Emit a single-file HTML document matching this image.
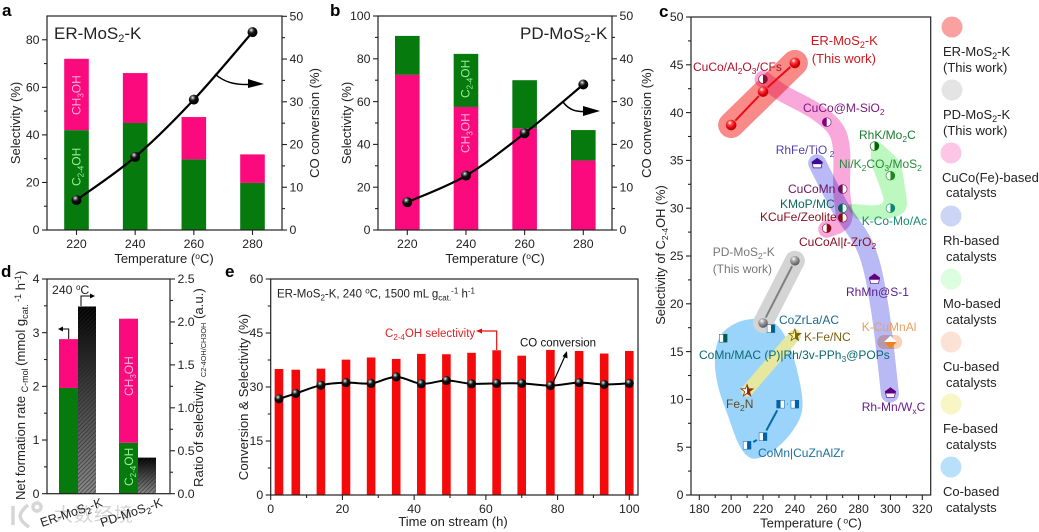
<!DOCTYPE html>
<html lang="en">
<head>
<meta charset="utf-8">
<title>MoS2-K catalyst performance</title>
<style>
html,body{margin:0;padding:0;background:#fff;}
svg{display:block;font-family:"Liberation Sans","Noto Sans CJK SC",sans-serif;fill:#222;}
text{font-size:13px;}
</style>
</head>
<body>
<svg id="fig" width="1039" height="532" viewBox="0 0 1039 532" xmlns="http://www.w3.org/2000/svg">
<defs>
<radialGradient id="ball" cx="38%" cy="30%" r="70%"><stop offset="0" stop-color="#fff"/><stop offset=".2" stop-color="#777"/><stop offset=".45" stop-color="#111"/><stop offset="1" stop-color="#000"/></radialGradient>
<radialGradient id="ballRed" cx="38%" cy="30%" r="70%"><stop offset="0" stop-color="#fff"/><stop offset=".3" stop-color="#f44"/><stop offset=".7" stop-color="#e00010"/><stop offset="1" stop-color="#b00"/></radialGradient>
<radialGradient id="ballGray" cx="38%" cy="30%" r="70%"><stop offset="0" stop-color="#fff"/><stop offset=".35" stop-color="#aaa"/><stop offset="1" stop-color="#555"/></radialGradient>
<linearGradient id="fade" x1="0" y1="0" x2="0" y2="1"><stop offset="0" stop-color="#000"/><stop offset="1" stop-color="#8a8a8a"/></linearGradient>
<pattern id="hatch" width="3" height="3" patternUnits="userSpaceOnUse" patternTransform="rotate(-45)"><rect width="3" height="1" fill="#222" fill-opacity=".55"/></pattern>
<linearGradient id="starOlive" x1="0" y1="0" x2="1" y2="0"><stop offset=".5" stop-color="#fff3a0"/><stop offset=".5" stop-color="#7d6d10"/></linearGradient>
<linearGradient id="starBrown" x1="0" y1="0" x2="1" y2="0"><stop offset=".5" stop-color="#fff"/><stop offset=".5" stop-color="#8a3010"/></linearGradient>
</defs>

<g id="watermark">
<path d="M13 506 V525 M28 505 C18 513 17 519 29 527 M33 507 a4 4 0 1 0 8 0 a4 4 0 1 0 -8 0" fill="none" stroke="#d6d6d6" stroke-width="3.500"/>
<text x="54" y="521" style="font-size:19px;letter-spacing:1px" fill="#d4d4d4">大数经境</text>
</g>
<g id="marks"></g>

<!-- frames -->
<rect x="47" y="16" width="235" height="214" fill="none" stroke="#222" stroke-width="1.2"/>
<rect x="378" y="16" width="234" height="214" fill="none" stroke="#222" stroke-width="1.2"/>
<rect x="691" y="17" width="239.7" height="478" fill="none" stroke="#222" stroke-width="1.2"/>
<rect x="47" y="279" width="123" height="214.7" fill="none" stroke="#222" stroke-width="1.2"/>
<rect x="270.7" y="279" width="367.3" height="216" fill="none" stroke="#222" stroke-width="1.2"/>

<!-- panel letters -->
<g style="font-weight:bold">
<text x="2" y="16" style="font-size:17px;font-weight:bold" fill="#000">a</text>
<text x="330" y="16" style="font-size:17px;font-weight:bold" fill="#000">b</text>
<text x="659" y="17" style="font-size:17px;font-weight:bold" fill="#000">c</text>
<text x="1" y="277" style="font-size:17px;font-weight:bold" fill="#000">d</text>
<text x="225" y="277" style="font-size:17px;font-weight:bold" fill="#000">e</text>
</g>

<!-- panel a text -->
<text x="54" y="39" style="font-size:17px">ER-MoS<tspan dy="3" style="font-size:11px">2</tspan><tspan dy="-3">-K</tspan></text>
<text transform="translate(20,123) rotate(-90)" text-anchor="middle">Selectivity (%)</text>
<text transform="translate(319,123) rotate(-90)" text-anchor="middle">CO conversion (%)</text>
<text x="164" y="263" text-anchor="middle">Temperature (<tspan dy="-4" style="font-size:8.5px">o</tspan><tspan dy="4">C)</tspan></text>
<text transform="translate(80.5,115) rotate(-90)" style="font-size:12px" fill="#ffb2dc">CH<tspan dy="3" style="font-size:8px">3</tspan><tspan dy="-3">OH</tspan></text>
<text transform="translate(80.5,186) rotate(-90)" style="font-size:12px" fill="#9af09a">C<tspan dy="3" style="font-size:8px">2-4</tspan><tspan dy="-3">OH</tspan></text>
<path d="M215 74 C224 82 234 85 250 84.500" fill="none" stroke="#000" stroke-width="1.500"/>
<path d="M248 79 L264 84 L248 88 Z" fill="#000"/>

<!-- panel b text -->
<text x="520" y="39" style="font-size:17px">PD-MoS<tspan dy="3" style="font-size:11px">2</tspan><tspan dy="-3">-K</tspan></text>
<text transform="translate(351,123) rotate(-90)" text-anchor="middle">Selectivity (%)</text>
<text transform="translate(651,123) rotate(-90)" text-anchor="middle">CO conversion (%)</text>
<text x="495" y="263" text-anchor="middle">Temperature (<tspan dy="-4" style="font-size:8.5px">o</tspan><tspan dy="4">C)</tspan></text>
<text transform="translate(469.5,153) rotate(-90)" style="font-size:12px" fill="#ffb2dc">CH<tspan dy="3" style="font-size:8px">3</tspan><tspan dy="-3">OH</tspan></text>
<text transform="translate(469.5,98) rotate(-90)" style="font-size:12px" fill="#9af09a">C<tspan dy="3" style="font-size:8px">2-4</tspan><tspan dy="-3">OH</tspan></text>
<path d="M563 102 C569 110 576 112 586 111.500" fill="none" stroke="#000" stroke-width="1.500"/>
<path d="M583 106 L600 111 L583 116 Z" fill="#000"/>

<!-- panel d text -->
<text transform="translate(25,500) rotate(-90)" style="font-size:13px">Net formation rate <tspan dy="3" style="font-size:9px">C-mol </tspan><tspan dy="-3">(mmol g</tspan><tspan dy="3" style="font-size:9px">cat.</tspan><tspan dy="-7" style="font-size:9px"> -1</tspan><tspan dy="4"> h</tspan><tspan dy="-4" style="font-size:9px">-1</tspan><tspan dy="4">)</tspan></text>
<text transform="translate(203,487) rotate(-90)" style="font-size:13.2px">Ratio of selectivity <tspan dy="3" style="font-size:7.3px">C2-4OH/CH3OH</tspan><tspan dy="-3"> (a.u.)</tspan></text>
<text x="52" y="294" style="font-size:12.3px">240 <tspan dy="-4" style="font-size:8px">o</tspan><tspan dy="4">C</tspan></text>
<text transform="translate(133,396) rotate(-90)" style="font-size:12px" fill="#ffb2dc">CH<tspan dy="3" style="font-size:8px">3</tspan><tspan dy="-3">OH</tspan></text>
<text transform="translate(133,486) rotate(-90)" style="font-size:12px" fill="#9af09a">C<tspan dy="3" style="font-size:8px">2-4</tspan><tspan dy="-3">OH</tspan></text>
<path d="M68.700 339 V329 H60" fill="none" stroke="#000" stroke-width="1"/>
<path d="M58 329 L63 326.500 V331.500 Z" fill="#000"/>
<path d="M81 306 V296 H91" fill="none" stroke="#000" stroke-width="1"/>
<path d="M95 296 L90 293.500 V298.500 Z" fill="#000"/>
<text transform="translate(42,527) rotate(-19)" style="font-size:12.5px">ER-MoS<tspan dy="3" style="font-size:9px">2</tspan><tspan dy="-3">-K</tspan></text>
<text transform="translate(102,527) rotate(-19)" style="font-size:12.5px">PD-MoS<tspan dy="3" style="font-size:9px">2</tspan><tspan dy="-3">-K</tspan></text>

<!-- panel e text -->
<text x="277" y="297.500" style="font-size:11.5px">ER-MoS<tspan dy="3" style="font-size:8px">2</tspan><tspan dy="-3">-K, 240 </tspan><tspan dy="-4" style="font-size:8px">o</tspan><tspan dy="4">C, 1500 mL g</tspan><tspan dy="3" style="font-size:8px">cat.</tspan><tspan dy="-7" style="font-size:8px">-1</tspan><tspan dy="4"> h</tspan><tspan dy="-4" style="font-size:8px">-1</tspan></text>
<text transform="translate(248,397) rotate(-90)" text-anchor="middle" style="font-size:13.2px">Conversion &amp; Selectivity (%)</text>
<text x="453" y="526" text-anchor="middle">Time on stream (h)</text>
<text x="385" y="337" style="font-size:11.5px" fill="#d22">C<tspan dy="3" style="font-size:8px">2-4</tspan><tspan dy="-3">OH selectivity</tspan></text>
<path d="M496.700 350 V331 H480" fill="none" stroke="#e01010" stroke-width="1.200"/>
<path d="M476 331 L482 328.500 V333.500 Z" fill="#e01010"/>
<text x="520" y="346.700" style="font-size:11.5px" fill="#111">CO conversion</text>
<path d="M552 385 L565 356" fill="none" stroke="#000" stroke-width="1.200"/>
<path d="M567 351 L567.500 358.500 L562.500 356.300 Z" fill="#000"/>

<!-- panel c titles -->
<text transform="translate(665,255) rotate(-90)" text-anchor="middle" style="font-size:12.8px">Selectivity of C<tspan dy="3" style="font-size:8.5px">2-4</tspan><tspan dy="-3">OH (%)</tspan></text>
<text x="811" y="527.500" text-anchor="middle">Temperature (<tspan dy="-4" style="font-size:8.5px"> o</tspan><tspan dy="4">C)</tspan></text>

<!-- panel c labels -->
<g id="catalyst-labels">
<text x="810.700" y="45" style="font-size:13px" fill="#d0181f">ER-MoS<tspan dy="3" style="font-size:9px">2</tspan><tspan dy="-3">-K</tspan></text>
<text x="811.700" y="63" style="font-size:13px" fill="#d0181f">(This work)</text>
<text x="693" y="71" style="font-size:12px" fill="#b01028">CuCo/Al<tspan dy="3" style="font-size:8.5px">2</tspan><tspan dy="-3">O</tspan><tspan dy="3" style="font-size:8.5px">3</tspan><tspan dy="-3">/CFs</tspan></text>
<text x="803" y="112" style="font-size:12px" fill="#7a1a80">CuCo@M-SiO<tspan dy="3" style="font-size:8.5px">2</tspan></text>
<text x="859" y="139" style="font-size:12px" fill="#1a7a30">RhK/Mo<tspan dy="3" style="font-size:8.5px">2</tspan><tspan dy="-3">C</tspan></text>
<text x="775.700" y="154" style="font-size:12px" fill="#5040b0">RhFe/TiO<tspan dy="3" style="font-size:8.5px"> 2</tspan></text>
<text x="839" y="168" style="font-size:12px" fill="#2a8a3a">Ni/K<tspan dy="3" style="font-size:8.5px">2</tspan><tspan dy="-3">CO</tspan><tspan dy="3" style="font-size:8.5px">3</tspan><tspan dy="-3">/MoS</tspan><tspan dy="3" style="font-size:8.5px">2</tspan></text>
<text x="788" y="193" style="font-size:12px" fill="#70105f">CuCoMn</text>
<text x="780" y="208" style="font-size:12px" fill="#0a6a60">KMoP/MC</text>
<text x="760" y="221" style="font-size:12px" fill="#8a1020">KCuFe/Zeolite</text>
<text x="861.700" y="225" style="font-size:12px" fill="#1a8a70">K-Co-Mo/Ac</text>
<text x="799" y="246" style="font-size:12px" fill="#8a1020">CuCoAl|<tspan font-style="italic">t</tspan>-ZrO<tspan dy="3" style="font-size:8.5px">2</tspan></text>
<text x="712.700" y="256" style="font-size:12px" fill="#777">PD-MoS<tspan dy="3" style="font-size:8.5px">2</tspan><tspan dy="-3">-K</tspan></text>
<text x="712.700" y="273" style="font-size:12px" fill="#777">(This work)</text>
<text x="846" y="296" style="font-size:12px" fill="#5a1a8a">RhMn@S-1</text>
<text x="779" y="324" style="font-size:12px" fill="#1a6a8a">CoZrLa/AC</text>
<text x="861.700" y="331" style="font-size:12px" fill="#e8a060">K-CuMnAl</text>
<text x="804" y="341" style="font-size:12px" fill="#7a6010">K-Fe/NC</text>
<text x="699" y="359" style="font-size:12px" fill="#0a6a70">CoMn/MAC (P)|Rh/3v-PPh<tspan dy="3" style="font-size:8.5px">3</tspan><tspan dy="-3">@POPs</tspan></text>
<text x="726" y="408" style="font-size:12px" fill="#5a4a20">Fe<tspan dy="3" style="font-size:8.5px">2</tspan><tspan dy="-3">N</tspan></text>
<text x="861.700" y="411" style="font-size:12px" fill="#6a1a8a">Rh-Mn/W<tspan dy="3" style="font-size:8.5px">x</tspan><tspan dy="-3">C</tspan></text>
<text x="758" y="457" style="font-size:12px" fill="#1a70a0">CoMn|CuZnAlZr</text>
</g>

<!-- legend -->
<g id="legend">
<circle cx="952" cy="27" r="10.500" fill="#f9a0a0"/>
<text x="943" y="56">ER-MoS<tspan dy="3" style="font-size:9px">2</tspan><tspan dy="-3">-K</tspan></text>
<text x="943" y="72">(This work)</text>
<circle cx="952" cy="90" r="10.500" fill="#e4e4e4"/>
<text x="943" y="119">PD-MoS<tspan dy="3" style="font-size:9px">2</tspan><tspan dy="-3">-K</tspan></text>
<text x="943" y="135">(This work)</text>
<circle cx="951" cy="153" r="10.500" fill="#fdc6e6"/>
<text x="942" y="182">CuCo(Fe)-based</text>
<text x="946" y="197">catalysts</text>
<circle cx="951" cy="216" r="10.500" fill="#ccd4f8"/>
<text x="943" y="245">Rh-based</text>
<text x="946" y="261">catalysts</text>
<circle cx="951" cy="279" r="10.500" fill="#dcfde0"/>
<text x="943" y="308">Mo-based</text>
<text x="946" y="324">catalysts</text>
<circle cx="951" cy="342" r="10.500" fill="#fbe2d4"/>
<text x="943" y="371">Cu-based</text>
<text x="946" y="387">catalysts</text>
<circle cx="951" cy="404" r="10.500" fill="#f8f6c4"/>
<text x="943" y="433">Fe-based</text>
<text x="946" y="449">catalysts</text>
<circle cx="951" cy="467" r="10.500" fill="#b8e0fb"/>
<text x="943" y="496">Co-based</text>
<text x="946" y="512">catalysts</text>
</g>
</svg>

<script>
// ---- Panel a data ----
const aTemps = [220, 240, 260, 280];
const aC24OH = [42, 45, 29.7, 19.8];
const aCH3OH = [30, 21, 17.8, 12];
const aConversion = [7, 17.1, 30.5, 46.3];
const aLeftTicks = [0, 20, 40, 60, 80];
const aRightTicks = [0, 10, 20, 30, 40, 50];
const aXTicks = [220, 240, 260, 280];

// ---- Panel b data ----
const bTemps = [220, 240, 260, 280];
const bCH3OH = [72.5, 57.5, 47.5, 32.5];
const bC24OH = [18.2, 24.8, 22.5, 14.2];
const bConversion = [6.5, 12.7, 22.6, 34];
const bLeftTicks = [0, 20, 40, 60, 80, 100];
const bRightTicks = [0, 10, 20, 30, 40, 50];
const bXTicks = [220, 240, 260, 280];

// ---- Panel d data ----
const dCatalysts = ['ER-MoS2-K', 'PD-MoS2-K'];
const dC24OH = [1.97, 0.95];
const dCH3OH = [0.91, 2.31];
const dRatio = [2.18, 0.42];
const dLeftTicks = ['0', '1', '2', '3', '4'];
const dRightTicks = ['0.0', '0.5', '1.0', '1.5', '2.0', '2.5'];

// ---- Panel e data ----
const eHours = [2.3, 7, 14, 21, 28, 35, 42, 49, 56, 63, 70, 78, 86, 93, 100];
const eSelectivity = [35, 34.8, 35.1, 37.6, 38.2, 37.8, 39.2, 39.1, 39.5, 40.2, 38.7, 40.3, 40, 39.3, 40];
const eConversion = [26.7, 28.2, 30.5, 31.2, 31, 32.8, 30.9, 31.8, 30.9, 31, 31, 30.4, 31.2, 30.7, 31];
const eYTicks = [0, 15, 30, 45, 60];
const eXTicks = [0, 20, 40, 60, 80, 100];

// ---- Panel c data ----
const cXTicks = [180, 200, 220, 240, 260, 280, 300, 320];
const cYTicks = [0, 5, 10, 15, 20, 25, 30, 35, 40, 45, 50];
const erTemps = [200, 220, 240];
const erSelect = [38.7, 42.2, 45.2];
const pdTemps = [220, 240];
const pdSelect = [18, 24.5];
const coLineTemps = [210, 220, 231, 240];
const coLineSelect = [5.2, 6.1, 9.5, 9.5];
const catalystNames = ['cuco-al2o3-cfs', 'cuco-m-sio2', 'cucomn', 'kmop-mc', 'kcufe-zeolite', 'cucoal-t-zro2', 'rhk-mo2c', 'ni-k2co3-mos2', 'k-co-mo-ac', 'rhfe-tio2', 'rhmn-s1', 'rh-mn-wxc', 'k-cumnal', 'k-fe-nc', 'fe2n', 'comn-mac', 'cozrla-ac', 'comn-cuznalzr-a', 'comn-cuznalzr-b', 'comn-cuznalzr-c', 'comn-cuznalzr-d'];
const catalystTemps = [220, 260, 270, 270, 270, 260, 290, 300, 300, 254, 290, 300, 300, 240, 210, 195, 225, 210, 220, 231, 240];
const catalystSelect = [43.5, 39, 32, 30, 29, 27.9, 36.5, 33.4, 30, 34.7, 22.6, 10.7, 16, 16.7, 10.9, 16.4, 17.4, 5.2, 6.1, 9.5, 9.5];

// Region outlines, in the chart's own temperature / selectivity units
const coRegionT = [189.8, 193, 203.4, 216, 228.5, 236.9, 243.2, 244.6, 239, 228.5, 218, 210.8, 204.5, 198.2, 191.9];
const coRegionS = [14.1, 16.6, 18, 18.4, 17.8, 15.5, 11.7, 8.9, 6.8, 4.9, 3.9, 4, 5.4, 8.2, 11.3];
const cuRegionT = [220, 232.6, 251.5, 265, 269.3, 269.3, 270.4, 260];
const cuRegionS = [43.5, 42, 40.3, 38.4, 36.1, 31.9, 28.8, 27.8];
const rhRegionT = [254, 268, 285, 293.4, 299.7];
const rhRegionS = [34.7, 30.2, 25.6, 19.4, 10.6];
const moRegionT = [288.2, 291.4, 298.6, 306, 309.1, 310.2, 306, 297.6, 280.9, 274.6, 274.6, 289.2, 295.5, 293.4, 288.2];
const moRegionS = [36.4, 37, 36.1, 34.7, 32.2, 30.2, 29.3, 28.9, 28.8, 29.6, 30.4, 30.3, 30.7, 32.2, 34.7];
const feRegionT = [210, 240];
const feRegionS = [10.9, 16.7];
const cuOnlyRegionT = [296, 303];
const cuOnlyRegionS = [16, 16];
const erRegionT = [200, 240];
const erRegionS = [38.7, 45.2];

// ---- helpers ----
const SVGNS = 'http://www.w3.org/2000/svg';
const marks = document.getElementById('marks');
function mk(tag, attrs) {
  const el = document.createElementNS(SVGNS, tag);
  for (const k in attrs) el.setAttribute(k, attrs[k]);
  marks.appendChild(el);
  return el;
}
function linear(d0, d1, r0, r1) {
  return v => r0 + (v - d0) * (r1 - r0) / (d1 - d0);
}
function smooth(pts, closed) {
  const n = pts.length;
  if (n < 3) return 'M' + pts.map(p => p[0] + ' ' + p[1]).join('L') + (closed ? 'Z' : '');
  const at = i => closed ? pts[(i + n) % n] : pts[Math.max(0, Math.min(n - 1, i))];
  let d = 'M' + pts[0][0] + ' ' + pts[0][1];
  const last = closed ? n : n - 1;
  for (let i = 0; i < last; i++) {
    const p0 = at(i - 1), p1 = at(i), p2 = at(i + 1), p3 = at(i + 2);
    d += 'C' + (p1[0] + (p2[0] - p0[0]) / 6) + ' ' + (p1[1] + (p2[1] - p0[1]) / 6) + ' ' +
      (p2[0] - (p3[0] - p1[0]) / 6) + ' ' + (p2[1] - (p3[1] - p1[1]) / 6) + ' ' + p2[0] + ' ' + p2[1];
  }
  return d + (closed ? 'Z' : '');
}
function tickLine(x1, y1, x2, y2, name) {
  const t = mk('line', {x1, y1, x2, y2, stroke: '#222', 'stroke-width': 1.1});
  
  
}
function tickText(x, y, str, anchor, name) {
  const t = mk('text', {x, y, 'text-anchor': anchor, style: 'font-size:12.3px'});
  t.textContent = str;
  
  
}
function midpoints(vals) {
  const out = [];
  for (let i = 0; i + 1 < vals.length; i++) out.push((Number(vals[i]) + Number(vals[i + 1])) / 2);
  return out;
}
function yAxis(side, x, scale, ticks, name) {
  const dir = side === 'left' ? -1 : 1;
  ticks.forEach(v => {
    const y = scale(Number(v));
    tickLine(x, y, x + dir * 5, y, name + '-tick');
    tickText(x + dir * 7.5, y + 4.2, String(v), side === 'left' ? 'end' : 'start', name + '-tick-label');
  });
  midpoints(ticks).forEach(v => {
    const y = scale(v);
    tickLine(x, y, x + dir * 3, y, name + '-minor-tick');
  });
}
function xAxis(y, scale, ticks, withMinor, name) {
  ticks.forEach(v => {
    const x = scale(v);
    tickLine(x, y, x, y + 5, name + '-tick');
    tickText(x, y + 18, String(v), 'middle', name + '-tick-label');
  });
  if (withMinor) midpoints(ticks).forEach(v => {
    const x = scale(v);
    tickLine(x, y, x, y + 3, name + '-minor-tick');
  });
}
function bar(x, w, yTop, yBottom, fill, name) {
  const r = mk('rect', {x: x, y: yTop, width: w, height: yBottom - yTop, fill: fill});
  
  
  return r;
}
function ball(cx, cy, r, fill, name) {
  const c = mk('circle', {cx, cy, r, fill});
  
  
}
function curve(d, stroke, width, name) {
  const p = mk('path', {d: d, fill: 'none', stroke: stroke, 'stroke-width': width, 'stroke-linecap': 'round', 'stroke-linejoin': 'round'});
  
  
  return p;
}

const GREEN = '#067a0c', PINK = '#fa0a7c';

// ---- Panel a ----
const xa = linear(220, 280, 76.5, 252.5), yaL = linear(0, 90, 230, 16), yaR = linear(0, 50, 230, 16.3);
aTemps.forEach((t, i) => {
  const top1 = aC24OH[i], top2 = aC24OH[i] + aCH3OH[i];
  bar(xa(t) - 12.3, 24.6, yaL(top1), yaL(0), GREEN, 'panel-a-bar-c24oh');
  bar(xa(t) - 12.3, 24.6, yaL(top2), yaL(top1), PINK, 'panel-a-bar-ch3oh');
});
curve(smooth(aTemps.map((t, i) => [xa(t), yaR(aConversion[i])])), '#000', 2.2, 'panel-a-conversion-line');
aTemps.forEach((t, i) => ball(xa(t), yaR(aConversion[i]), 5, 'url(#ball)', 'panel-a-conversion-point'));
yAxis('left', 47, yaL, aLeftTicks, 'panel-a-y-axis');
yAxis('right', 282, yaR, aRightTicks, 'panel-a-y2-axis');
xAxis(230, xa, aXTicks, false, 'panel-a-x-axis');

// ---- Panel b ----
const xb = linear(220, 280, 407.3, 583.3), ybL = linear(0, 100, 230, 16), ybR = linear(0, 50, 230, 16);
bTemps.forEach((t, i) => {
  const top1 = bCH3OH[i], top2 = bCH3OH[i] + bC24OH[i];
  bar(xb(t) - 12.3, 24.6, ybL(top1), ybL(0), PINK, 'panel-b-bar-ch3oh');
  bar(xb(t) - 12.3, 24.6, ybL(top2), ybL(top1), GREEN, 'panel-b-bar-c24oh');
});
curve(smooth(bTemps.map((t, i) => [xb(t), ybR(bConversion[i])])), '#000', 2.2, 'panel-b-conversion-line');
bTemps.forEach((t, i) => ball(xb(t), ybR(bConversion[i]), 5, 'url(#ball)', 'panel-b-conversion-point'));
yAxis('left', 378, ybL, bLeftTicks, 'panel-b-y-axis');
yAxis('right', 612, ybR, bRightTicks, 'panel-b-y2-axis');
xAxis(230, xb, bXTicks, false, 'panel-b-x-axis');

// ---- Panel d ----
const dx = linear(0, 1, 78, 138), ydL = linear(0, 4, 493.7, 279), ydR = linear(0, 2.5, 493.7, 279);
dCatalysts.forEach((c, i) => {
  const cx = dx(i);
  const t1 = dC24OH[i], t2 = dC24OH[i] + dCH3OH[i];
  bar(cx - 19, 19, ydL(t1), ydL(0), GREEN, 'panel-d-bar-c24oh');
  bar(cx - 19, 19, ydL(t2), ydL(t1), PINK, 'panel-d-bar-ch3oh');
  bar(cx, 18, ydR(dRatio[i]), ydR(0), 'url(#fade)', 'panel-d-bar-ratio');
  bar(cx, 18, ydR(dRatio[i]), ydR(0), 'url(#hatch)', 'panel-d-bar-ratio-hatch');
});
yAxis('left', 47, ydL, dLeftTicks, 'panel-d-y-axis');
yAxis('right', 170, ydR, dRightTicks, 'panel-d-y2-axis');

// ---- Panel e ----
const xe = linear(0, 100, 270.7, 629.3), ye = linear(0, 60, 495, 279);
eHours.forEach((h, i) => bar(xe(h) - 4.3, 8.6, ye(eSelectivity[i]), ye(0), '#f40a0a', 'panel-e-bar-selectivity'));
curve(smooth(eHours.map((h, i) => [xe(h), ye(eConversion[i])])), '#000', 2, 'panel-e-conversion-line');
eHours.forEach((h, i) => ball(xe(h), ye(eConversion[i]), 4.5, 'url(#ball)', 'panel-e-conversion-point'));
yAxis('left', 270.7, ye, eYTicks, 'panel-e-y-axis');
xAxis(495, xe, eXTicks, true, 'panel-e-x-axis');

// ---- Panel c ----
const xc = linear(180, 320, 699.3, 922.3), yc = linear(0, 50, 495, 17);
function toPts(ts, ss) {
  return ts.map((t, i) => [xc(t), yc(ss[i])]);
}
function region(ts, ss, color, width, name, blend) {
  const p = curve(smooth(toPts(ts, ss)), color, width, name);
  if (blend) p.style.mixBlendMode = 'multiply';
  return p;
}
const coFill = mk('path', {d: smooth(toPts(coRegionT, coRegionS), true), fill: '#9ad4fb'});


region(pdTemps, pdSelect, '#d4d4d4', 20, 'region-pd-mos2-k', false);
region(feRegionT, feRegionS, '#e6e89e', 12, 'region-fe-based', false);
const moFill = mk('path', {d: smooth(toPts(moRegionT, moRegionS), true), fill: '#bdf8c0'});
moFill.style.mixBlendMode = 'multiply';


region(rhRegionT, rhRegionS, '#b9b9f5', 18, 'region-rh-based', true);
region(cuRegionT, cuRegionS, '#f9a8dc', 17, 'region-cuco-based', true);
region(cuOnlyRegionT, cuOnlyRegionS, '#f8d2b8', 14, 'region-cu-based', true);
region(erRegionT, erRegionS, '#f88a88', 26, 'region-er-mos2-k', true);

function segments(ts, ss, color, width, trim, name) {
  const pts = toPts(ts, ss);
  for (let i = 0; i + 1 < pts.length; i++) {
    const a = pts[i], b = pts[i + 1];
    const dx2 = b[0] - a[0], dy2 = b[1] - a[1], len = Math.hypot(dx2, dy2);
    const ux = dx2 / len, uy = dy2 / len;
    const s = mk('line', {x1: a[0] + ux * trim, y1: a[1] + uy * trim, x2: b[0] - ux * trim, y2: b[1] - uy * trim, stroke: color, 'stroke-width': width});
    
    
  }
}
segments(erTemps, erSelect, '#ee0a14', 2, 6, 'er-connector');
segments(pdTemps, pdSelect, '#808080', 2, 6, 'pd-connector');
segments(coLineTemps, coLineSelect, '#0a68a8', 2, 7, 'comn-cuznalzr-connector');
erTemps.forEach((t, i) => ball(xc(t), yc(erSelect[i]), 5.3, 'url(#ballRed)', 'er-mos2-k-point'));
pdTemps.forEach((t, i) => ball(xc(t), yc(pdSelect[i]), 4.8, 'url(#ballGray)', 'pd-mos2-k-point'));

// Marker appearance, matched to the catalysts by index
const markerStyles = [
  ['circle', '#8a1030', 'right'], ['circle', '#800080', 'left'], ['circle', '#70105f', 'left'],
  ['circle', '#005f58', 'left'], ['circle', '#8a0a18', 'left'], ['circle', '#8a0a18', 'right'],
  ['circle', '#006400', 'right'], ['circle', '#1b8a1b', 'right'], ['circle', '#0a8a6a', 'right'],
  ['house', '#3c0a96'], ['house', '#600080'], ['house', '#600080'],
  ['diamond', '#f08020'], ['star', 'url(#starOlive)', '#6d5e10'], ['star', 'url(#starBrown)', '#8a3010'],
  ['square', '#005a50', 'right'], ['square', '#005f8f', 'right'],
  ['square', '#0060a8', 'right'], ['square', '#0060a8', 'right'], ['square', '#0060a8', 'left'], ['square', '#0060a8', 'right']
];
function marker(style, cx, cy, name) {
  const g = mk('g', {});
  
  
  const shape = style[0], color = style[1];
  if (shape === 'circle') {
    const r = 4.4;
    g.appendChild(mk('circle', {cx, cy, r, fill: '#fff', stroke: color, 'stroke-width': .6}));
    const sweep = style[2] === 'right' ? 1 : 0;
    g.appendChild(mk('path', {d: 'M' + cx + ' ' + (cy - r) + 'A' + r + ' ' + r + ' 0 0 ' + sweep + ' ' + cx + ' ' + (cy + r) + 'Z', fill: color}));
  } else if (shape === 'square') {
    const s = 3.9;
    g.appendChild(mk('rect', {x: cx - s, y: cy - s, width: 2 * s, height: 2 * s, fill: '#fff', stroke: color, 'stroke-width': .5}));
    g.appendChild(mk('rect', {x: style[2] === 'right' ? cx : cx - s, y: cy - s, width: s, height: 2 * s, fill: color}));
  } else if (shape === 'house') {
    const pts = [[cx, cy - 5], [cx + 5.2, cy - 1.2], [cx + 3.9, cy + 4.6], [cx - 3.9, cy + 4.6], [cx - 5.2, cy - 1.2]];
    g.appendChild(mk('polygon', {points: pts.join(' '), fill: '#fff', stroke: color, 'stroke-width': .7}));
    g.appendChild(mk('polygon', {points: [[cx, cy - 5], [cx + 5.2, cy - 1.2], [cx + 4.7, cy + .8], [cx - 4.7, cy + .8], [cx - 5.2, cy - 1.2]].join(' '), fill: color}));
  } else if (shape === 'diamond') {
    const s = 6.4;
    g.appendChild(mk('polygon', {points: [[cx - s, cy], [cx, cy - s], [cx + s, cy]].join(' '), fill: '#fff'}));
    g.appendChild(mk('polygon', {points: [[cx - s, cy], [cx + s, cy], [cx, cy + s]].join(' '), fill: color}));
  } else if (shape === 'star') {
    const pts = [];
    for (let k = 0; k < 10; k++) {
      const R = k % 2 ? 2.6 : 6.3, a = -Math.PI / 2 + k * Math.PI / 5;
      pts.push([cx + R * Math.cos(a), cy + R * Math.sin(a)]);
    }
    g.appendChild(mk('polygon', {points: pts.join(' '), fill: color, stroke: style[2], 'stroke-width': .8}));
  }
}
catalystNames.forEach((n, i) => marker(markerStyles[i], xc(catalystTemps[i]), yc(catalystSelect[i]), 'marker-' + n));
yAxis('left', 691, yc, cYTicks, 'panel-c-y-axis');
xAxis(495, xc, cXTicks, true, 'panel-c-x-axis');
</script>
</body>
</html>
